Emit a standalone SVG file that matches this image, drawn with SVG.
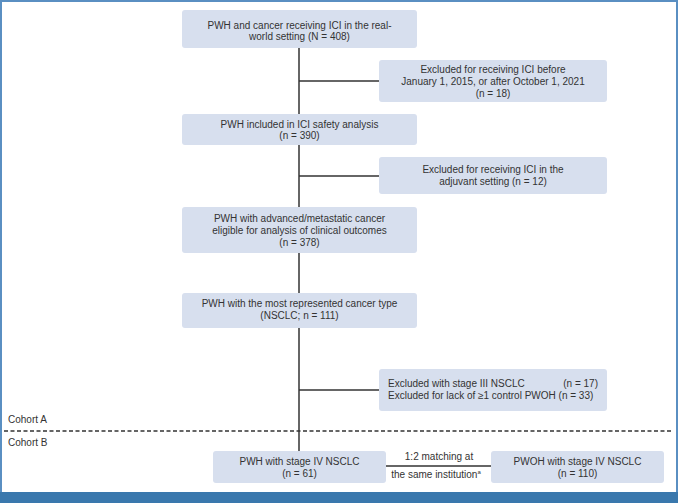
<svg xmlns="http://www.w3.org/2000/svg" width="678" height="503" viewBox="0 0 678 503">
<style>
.box{fill:#d7dfee;}
.t{font-family:"Liberation Sans",Arial,sans-serif;font-size:10px;fill:#333;text-anchor:middle;}
.l{text-anchor:start;}
.c{stroke:#333;stroke-width:1.5;fill:none;}
</style>
<rect x="0" y="0" width="678" height="503" fill="#fff"/>
<rect x="1" y="1" width="676" height="500" fill="none" stroke="#5a8fc2" stroke-width="2"/>
<rect x="0" y="492" width="678" height="11" fill="#3a78ad"/>
<g id="connectors">
<line class="c" x1="299" y1="48" x2="299" y2="451"/>
<line class="c" x1="299" y1="81" x2="379" y2="81"/>
<line class="c" x1="299" y1="176" x2="379" y2="176"/>
<line class="c" x1="299" y1="390" x2="379" y2="390"/>
<line class="c" x1="386" y1="466" x2="491" y2="466"/>
<text class="t" x="439" y="460">1:2 matching at</text>
<text class="t" x="436" y="478">the same institution<tspan font-size="6" dy="-4">a</tspan></text>
</g>
<g id="divider">
<line x1="4" y1="431" x2="672" y2="431" stroke="#333" stroke-width="1.5" stroke-dasharray="4,2.5"/>
<text class="t l" x="8" y="423">Cohort A</text>
<text class="t l" x="8" y="446">Cohort B</text>
</g>
<g id="n1">
<rect class="box" x="182" y="10" width="235" height="38" rx="3"/>
<text class="t" x="299.5" y="28.5">PWH and cancer receiving ICI in the real-</text>
<text class="t" x="299.5" y="40">world setting (N = 408)</text>
</g>
<g id="n2">
<rect class="box" x="379" y="60" width="228" height="42" rx="3"/>
<text class="t" x="493" y="72.5">Excluded for receiving ICI before</text>
<text class="t" x="493" y="84.5">January 1, 2015, or after October 1, 2021</text>
<text class="t" x="493" y="96.5">(n = 18)</text>
</g>
<g id="n3">
<rect class="box" x="182" y="114" width="235" height="31" rx="3"/>
<text class="t" x="299.5" y="127.5">PWH included in ICI safety analysis</text>
<text class="t" x="299.5" y="139">(n = 390)</text>
</g>
<g id="n4">
<rect class="box" x="379" y="157" width="228" height="37" rx="3"/>
<text class="t" x="493" y="172.5">Excluded for receiving ICI in the</text>
<text class="t" x="493" y="184.5">adjuvant setting (n = 12)</text>
</g>
<g id="n5">
<rect class="box" x="182" y="207" width="235" height="46" rx="3"/>
<text class="t" x="299.5" y="221.5">PWH with advanced/metastatic cancer</text>
<text class="t" x="299.5" y="233.5">eligible for analysis of clinical outcomes</text>
<text class="t" x="299.5" y="245.5">(n = 378)</text>
</g>
<g id="n6">
<rect class="box" x="182" y="293" width="235" height="35" rx="3"/>
<text class="t" x="299.5" y="306.5">PWH with the most represented cancer type</text>
<text class="t" x="299.5" y="319">(NSCLC; n = 111)</text>
</g>
<g id="n7">
<rect class="box" x="379" y="369" width="228" height="42" rx="3"/>
<text class="t l" x="388" y="386.5">Excluded with stage III NSCLC</text>
<text class="t" x="598" y="386.5" text-anchor="end" style="text-anchor:end">(n = 17)</text>
<text class="t l" x="388" y="399">Excluded for lack of ≥1 control PWOH (n = 33)</text>
</g>
<g id="n8">
<rect class="box" x="213" y="451" width="173" height="32" rx="3"/>
<text class="t" x="299.5" y="464.5">PWH with stage IV NSCLC</text>
<text class="t" x="299.5" y="476.5">(n = 61)</text>
</g>
<g id="n9">
<rect class="box" x="491" y="451" width="173" height="32" rx="3"/>
<text class="t" x="577.5" y="464.5">PWOH with stage IV NSCLC</text>
<text class="t" x="577.5" y="476.5">(n = 110)</text>
</g>
</svg>
